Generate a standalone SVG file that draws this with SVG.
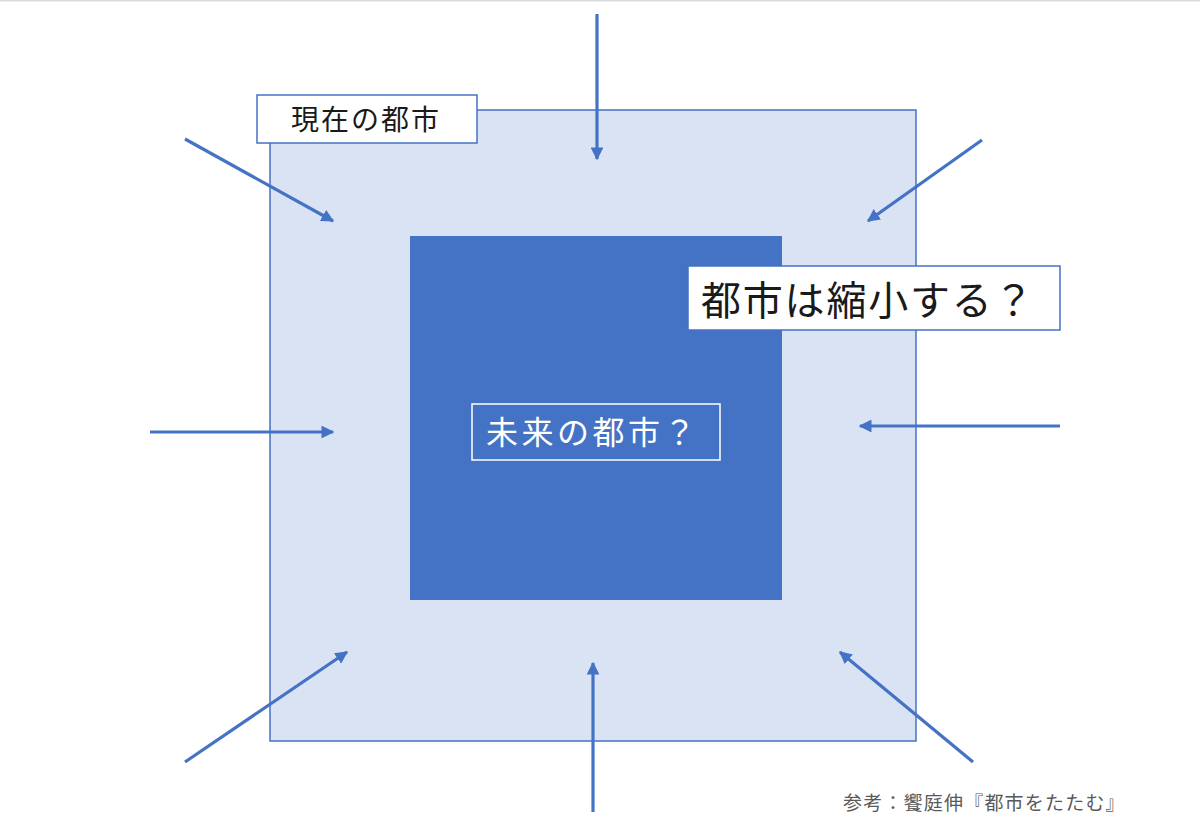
<svg xmlns="http://www.w3.org/2000/svg" width="1200" height="835" viewBox="0 0 1200 835">
<defs>
<marker id="ah" viewBox="0 0 10 10" refX="9" refY="5" markerWidth="4" markerHeight="4" orient="auto" markerUnits="strokeWidth">
<path d="M0,0 L10,5 L0,10 Z" fill="#4472c4"/>
</marker>
<style>
.jp{font-family:"Noto Sans CJK JP","Noto Sans CJK SC",sans-serif;}
.arr{stroke:#4472c4;stroke-width:3.2;fill:none;marker-end:url(#ah);}
.lbl{fill:#ffffff;stroke:#4472c4;stroke-width:1.5;}
</style>
</defs>
<rect width="1200" height="835" fill="#ffffff"/>
<rect x="0" y="0" width="1200" height="1.5" fill="#dcdcdc"/>
<g id="current-city">
<rect x="270" y="110" width="646" height="631" fill="#dae3f3" stroke="#4472c4" stroke-width="1.5"/>
</g>
<g id="future-city">
<rect x="410" y="236" width="372" height="364" fill="#4472c4"/>
</g>
<g id="connectors">
<line class="arr" x1="597" y1="14" x2="597" y2="159"/>
<line class="arr" x1="185" y1="139" x2="333" y2="221"/>
<line class="arr" x1="982" y1="140" x2="868" y2="221"/>
<line class="arr" x1="150" y1="432" x2="333" y2="432"/>
<line class="arr" x1="1060" y1="426" x2="860" y2="426"/>
<line class="arr" x1="185" y1="762" x2="347" y2="652"/>
<line class="arr" x1="593" y1="812" x2="593" y2="663"/>
<line class="arr" x1="973" y1="762" x2="840" y2="652"/>
</g>
<g id="label-current">
<rect class="lbl" x="257" y="95" width="220" height="48"/>
<text class="jp" x="291" y="130" font-size="28" letter-spacing="2" fill="#1a1a1a">現在の都市</text>
</g>
<g id="label-shrink">
<rect class="lbl" x="688" y="266" width="372" height="64"/>
<text class="jp" x="701" y="315" font-size="40" letter-spacing="1.8" fill="#1a1a1a">都市は縮小する？</text>
</g>
<g id="label-future">
<rect x="472" y="404" width="248" height="56" fill="none" stroke="#ffffff" stroke-width="1.5"/>
<text class="jp" x="486" y="444" font-size="32" letter-spacing="3.5" fill="#ffffff">未来の都市？</text>
</g>
<g id="footnote">
<text class="jp" x="843" y="810" font-size="19" letter-spacing="1.2" fill="#595959">参考：饗庭伸『都市をたたむ』</text>
</g>
</svg>
